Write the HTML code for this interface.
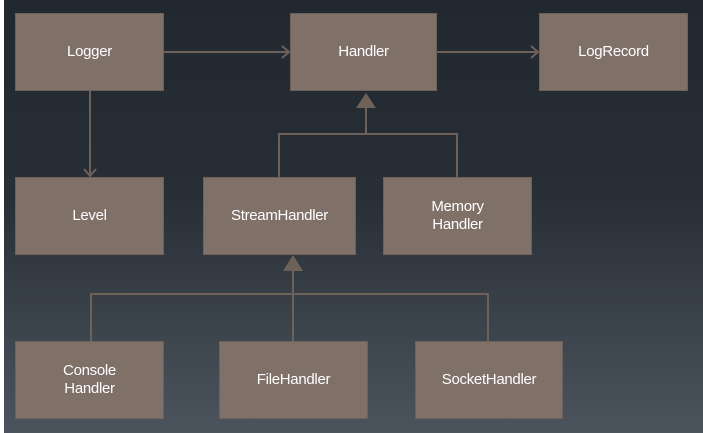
<!DOCTYPE html>
<html><head><style>
html,body{margin:0;padding:0}
body{width:703px;height:433px;overflow:hidden;background:#fff;position:relative;font-family:"Liberation Sans",Arial,sans-serif}
#bg{position:absolute;left:4px;top:0;width:699px;height:433px;background:linear-gradient(#22282f 0%,#282e36 45%,#4b545d 100%)}
.b{position:absolute;background:#7f7068;border:1px solid #6e6159;box-sizing:border-box;color:#fff;font-size:15px;display:flex;align-items:center;justify-content:center;text-align:center;line-height:18px;letter-spacing:-0.3px}
svg{position:absolute;left:0;top:0}
</style></head><body>
<div id="bg"></div>
<svg width="703" height="433">
<g stroke="#6e6159" stroke-width="2" fill="none">
<line x1="164" y1="52" x2="289" y2="52"/>
<polyline points="282,46 289,52 282,58"/>
<line x1="437" y1="52" x2="538" y2="52"/>
<polyline points="531,46 538,52 531,58"/>
<line x1="90" y1="91" x2="90" y2="176"/>
<polyline points="84,169 90,176 96,169"/>
<line x1="366" y1="108" x2="366" y2="134"/>
<polyline points="279,177 279,134 457,134 457,177"/>
<line x1="293" y1="271" x2="293" y2="341"/>
<polyline points="91,341 91,294 488,294 488,341"/>
</g>
<polygon points="366,93 356,108 376,108" fill="#6e6159"/>
<polygon points="293,255 283,271 303,271" fill="#6e6159"/>
</svg>
<div class="b" style="left:15px;top:13px;width:149px;height:78px">Logger</div>
<div class="b" style="left:290px;top:13px;width:147px;height:78px">Handler</div>
<div class="b" style="left:539px;top:13px;width:149px;height:78px">LogRecord</div>
<div class="b" style="left:15px;top:177px;width:149px;height:78px">Level</div>
<div class="b" style="left:203px;top:177px;width:153px;height:78px">StreamHandler</div>
<div class="b" style="left:383px;top:177px;width:149px;height:78px">Memory<br>Handler</div>
<div class="b" style="left:15px;top:341px;width:149px;height:78px">Console<br>Handler</div>
<div class="b" style="left:219px;top:341px;width:149px;height:78px">FileHandler</div>
<div class="b" style="left:415px;top:341px;width:148px;height:78px">SocketHandler</div>
</body></html>
